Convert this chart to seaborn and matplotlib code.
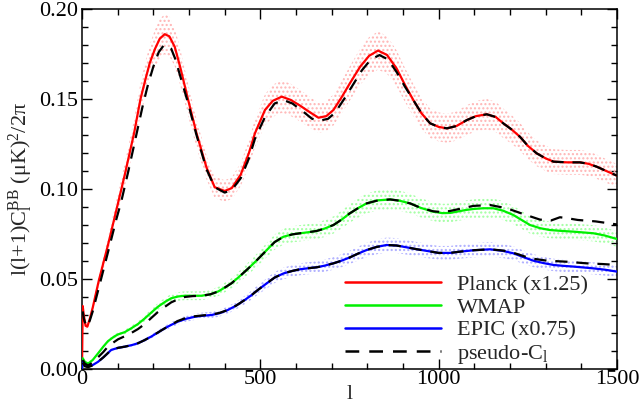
import numpy as np
import pandas as pd
import matplotlib
matplotlib.use("Agg")
import matplotlib.pyplot as plt
import seaborn as sns

# ---------------- data ----------------
planck_l = [0, 2, 5, 10, 15, 22, 30, 47, 60, 73, 96, 120, 146, 164, 178, 190, 205, 218, 232,
            245, 260, 275, 297, 321, 349, 372, 400, 420, 445, 468, 485, 513, 535, 560,
            585, 610, 640, 663, 685, 705, 728, 751, 780, 805, 830, 855, 882, 905, 929,
            952, 976, 1000, 1023, 1050, 1079, 1105, 1135, 1160, 1181, 1205, 1228, 1250,
            1275, 1300, 1322, 1360, 1396, 1420, 1443, 1470, 1500]
planck_y = [0.0, 0.035, 0.030, 0.024, 0.0235, 0.028, 0.034, 0.049, 0.059, 0.069, 0.088, 0.108,
            0.131, 0.150, 0.161, 0.170, 0.178, 0.1835, 0.186, 0.1848, 0.179, 0.168, 0.150,
            0.131, 0.112, 0.101, 0.0989, 0.1005, 0.108, 0.120, 0.131, 0.1439, 0.149,
            0.1513, 0.1495, 0.1465, 0.1425, 0.1396, 0.1405, 0.1439, 0.151, 0.1587, 0.168,
            0.174, 0.1769, 0.1745, 0.167, 0.158, 0.1494, 0.142, 0.1365, 0.1345, 0.1337,
            0.1350, 0.1383, 0.1405, 0.1415, 0.1400, 0.1365, 0.1330, 0.129, 0.124, 0.1198,
            0.117, 0.1152, 0.1148, 0.1148, 0.1140, 0.1124, 0.110, 0.1074]

pseudo_planck_l = [2, 5, 10, 15, 22, 30, 47, 73, 96, 110, 130, 150, 170, 185, 200, 215, 228,
                   238, 250, 262, 275, 297, 321, 349, 372, 400, 420, 445, 468, 485, 513,
                   540, 565, 590, 620, 645, 667, 690, 710, 735, 760, 785, 810, 834, 858,
                   882, 905, 929, 952, 976, 1000, 1023, 1050, 1079, 1105, 1135, 1160, 1181,
                   1205, 1228, 1250, 1275, 1300, 1322, 1360, 1396, 1420, 1443, 1470, 1500]
pseudo_planck_y = [0.032, 0.028, 0.025, 0.0235, 0.027, 0.032, 0.045, 0.065, 0.083, 0.093,
                   0.110, 0.128, 0.146, 0.158, 0.168, 0.176, 0.1795, 0.180, 0.178, 0.172,
                   0.163, 0.148, 0.130, 0.111, 0.101, 0.098, 0.0995, 0.106, 0.117, 0.128,
                   0.140, 0.1475, 0.1494, 0.1475, 0.143, 0.139, 0.138, 0.139, 0.1425, 0.150,
                   0.158, 0.166, 0.172, 0.1744, 0.172, 0.165, 0.157, 0.1494, 0.142, 0.1365,
                   0.1345, 0.1337, 0.1350, 0.1383, 0.1405, 0.1415, 0.1400, 0.1365, 0.1330,
                   0.129, 0.124, 0.1198, 0.117, 0.1152, 0.1148, 0.1148, 0.1140, 0.1124,
                   0.110, 0.1074]

wmap_l = [0, 2, 8, 17, 30, 45, 60, 73, 90, 101, 120, 138, 157, 176, 195, 213, 232, 250, 270,
          288, 310, 335, 360, 381, 400, 419, 438, 456, 475, 493, 518, 540, 565, 590, 611,
          635, 658, 680, 705, 728, 751, 775, 798, 830, 864, 890, 920, 950, 985, 1010, 1032,
          1051, 1075, 1097, 1125, 1153, 1180, 1209, 1235, 1256, 1285, 1312, 1345, 1378,
          1410, 1434, 1465, 1500]
wmap_y = [0.0, 0.006, 0.004, 0.003, 0.005, 0.0087, 0.0125, 0.0155, 0.018, 0.0192, 0.0205,
          0.0226, 0.025, 0.0281, 0.0315, 0.0346, 0.0372, 0.0393, 0.0403, 0.0407, 0.0407,
          0.0407, 0.0415, 0.043, 0.0452, 0.0476, 0.0508, 0.054, 0.0575, 0.061, 0.0661,
          0.0705, 0.0735, 0.0748, 0.0754, 0.076, 0.0767, 0.078, 0.080, 0.083, 0.0865,
          0.0895, 0.092, 0.0937, 0.0942, 0.0935, 0.092, 0.0895, 0.0874, 0.0866, 0.0867,
          0.0874, 0.0883, 0.0889, 0.0893, 0.0893, 0.0880, 0.0856, 0.0825, 0.080, 0.0782,
          0.0772, 0.0767, 0.0763, 0.0758, 0.0754, 0.0742, 0.0722]

pseudo_wmap_l = [2, 8, 17, 30, 45, 60, 73, 90, 101, 120, 138, 157, 176, 195, 213, 232, 250,
                 270, 288, 310, 335, 360, 381, 400, 419, 438, 456, 475, 493, 518, 540, 565,
                 590, 611, 635, 658, 680, 705, 728, 751, 775, 798, 830, 864, 890, 920, 950,
                 985, 1010, 1032, 1060, 1097, 1144, 1191, 1237, 1284, 1315, 1340, 1360,
                 1390, 1440, 1500]
pseudo_wmap_y = [0.005, 0.003, 0.002, 0.0035, 0.0065, 0.0095, 0.0125, 0.015, 0.0165,
                 0.0182, 0.0200, 0.0222, 0.0250, 0.0285, 0.0317, 0.0345, 0.0370, 0.0388,
                 0.0400, 0.0405, 0.0407, 0.0415, 0.043, 0.0452, 0.0476, 0.0508, 0.054,
                 0.0575, 0.061, 0.0661, 0.0705, 0.0735, 0.0748, 0.0754, 0.076, 0.0767,
                 0.078, 0.080, 0.083, 0.0865, 0.0895, 0.092, 0.0937, 0.0942, 0.0935, 0.092,
                 0.0895, 0.0876, 0.0872, 0.0878, 0.0890, 0.0906, 0.0911, 0.0893, 0.0861,
                 0.0830, 0.0825, 0.0843, 0.0838, 0.0828, 0.0820, 0.0803]

epic_l = [0, 2, 8, 17, 30, 45, 60, 82, 100, 120, 140, 157, 175, 194, 213, 232, 250, 269, 290,
          316, 340, 363, 386, 409, 432, 456, 475, 493, 518, 540, 565, 590, 611, 635, 658,
          680, 705, 728, 751, 775, 798, 826, 854, 882, 910, 940, 967, 1000, 1032, 1060,
          1100, 1144, 1180, 1209, 1237, 1265, 1295, 1322, 1350, 1378, 1406, 1434, 1465, 1500]
epic_y = [0.0, 0.004, 0.002, 0.0013, 0.0022, 0.004, 0.0065, 0.0106, 0.0117, 0.0124, 0.0133,
          0.0143, 0.016, 0.018, 0.0203, 0.0226, 0.0245, 0.0263, 0.0278, 0.029, 0.0296,
          0.030, 0.031, 0.0328, 0.0352, 0.0383, 0.041, 0.0439, 0.0476, 0.0508, 0.0531,
          0.0545, 0.0554, 0.056, 0.0565, 0.0574, 0.0587, 0.0602, 0.062, 0.0642, 0.0661,
          0.0678, 0.0689, 0.0686, 0.0676, 0.0665, 0.0656, 0.0645, 0.0645, 0.0652, 0.066,
          0.0665, 0.0656, 0.0643, 0.0622, 0.0602, 0.0588, 0.0578, 0.0573, 0.0569, 0.0564,
          0.0559, 0.0552, 0.0541]

pseudo_epic_l = [2, 8, 17, 30, 45, 60, 82, 100, 120, 140, 157, 175, 194, 213, 232, 250, 269,
                 290, 316, 340, 363, 386, 409, 432, 456, 475, 493, 518, 540, 565, 590, 611,
                 635, 658, 680, 705, 728, 751, 775, 798, 826, 854, 882, 910, 940, 967, 1000,
                 1032, 1060, 1100, 1144, 1180, 1209, 1237, 1256, 1303, 1359, 1415, 1460, 1500]
pseudo_epic_y = [0.0035, 0.0015, 0.001, 0.002, 0.004, 0.0065, 0.0106, 0.0117, 0.0124,
                 0.0133, 0.0143, 0.016, 0.018, 0.0203, 0.0226, 0.0247, 0.0267, 0.0283,
                 0.0293, 0.0298, 0.0302, 0.0312, 0.0328, 0.0352, 0.0383, 0.041, 0.0439,
                 0.0476, 0.0508, 0.0531, 0.0545, 0.0554, 0.056, 0.0565, 0.0574, 0.0587,
                 0.0602, 0.062, 0.0642, 0.0661, 0.0678, 0.0689, 0.0686, 0.0676, 0.0665,
                 0.0656, 0.0645, 0.0645, 0.0652, 0.066, 0.0665, 0.0658, 0.0646, 0.0628,
                 0.0615, 0.0602, 0.0596, 0.0587, 0.0583, 0.0578]

# relative scatter of the simulated points around each curve
planck_spread = 0.06
wmap_spread = 0.06
epic_spread = 0.06

labels = ["Planck (x1.25)", "WMAP", "EPIC (x0.75)", r"pseudo-C$_\mathrm{l}$"]
x_ticks = [0, 500, 1000, 1500]
y_ticks = [0.00, 0.05, 0.10, 0.15, 0.20]

# ---------------- style ----------------
sns.set_style("ticks")
plt.rcParams["font.family"] = ["Liberation Serif", "DejaVu Serif"]
plt.rcParams["mathtext.fontset"] = "custom"
plt.rcParams["mathtext.rm"] = "Liberation Serif"
plt.rcParams["mathtext.it"] = "Liberation Serif:italic"
plt.rcParams["hatch.linewidth"] = 1.0

fig = plt.figure(figsize=(6.39, 4.08), dpi=100)
ax = fig.add_axes([82 / 639, 1 - 369 / 408, 535 / 639, 360 / 408])

def band(lv, yv, s, color):
    lv = np.asarray(lv, float)
    yv = np.asarray(yv, float)
    ax.fill_between(lv[1:], yv[1:] * (1 - s), yv[1:] * (1 + s), facecolor="none",
                    edgecolor=color, hatch="....", linewidth=0, zorder=1)

band(planck_l, planck_y, planck_spread, "#ffb4b4")
band(wmap_l, wmap_y, wmap_spread, "#a0ffa0")
band(epic_l, epic_y, epic_spread, "#acacff")

series = [
    (planck_l, planck_y, "#ff0000", labels[0]),
    (wmap_l, wmap_y, "#00f000", labels[1]),
    (epic_l, epic_y, "#0000ff", labels[2]),
]
for lv, yv, c, lab in series:
    df = pd.DataFrame({"l": lv, "y": yv})
    sns.lineplot(data=df, x="l", y="y", color=c, lw=1.6, ax=ax, label=lab,
                 estimator=None, sort=False, zorder=3)

first = True
for lv, yv in [(pseudo_planck_l, pseudo_planck_y), (pseudo_wmap_l, pseudo_wmap_y),
               (pseudo_epic_l, pseudo_epic_y)]:
    df = pd.DataFrame({"l": lv, "y": yv})
    sns.lineplot(data=df, x="l", y="y", color="black", lw=1.6, ax=ax,
                 label=labels[3] if first else None, estimator=None, sort=False,
                 dashes=False, zorder=4).lines[-1].set_dashes([5.5, 4])
    first = False

ax.set_xlim(0, 1500)
ax.set_ylim(0, 0.20)
ax.set_xticks(x_ticks)
ax.set_yticks(y_ticks)
ax.set_xticklabels([str(t) for t in x_ticks])
ax.set_yticklabels([f"{t:.2f}" for t in y_ticks])
ax.xaxis.set_minor_locator(matplotlib.ticker.MultipleLocator(100))
ax.yaxis.set_minor_locator(matplotlib.ticker.MultipleLocator(0.01))
ax.tick_params(which="both", direction="in", top=True, right=True, width=1.0,
               labelsize=16, colors="black")
ax.tick_params(axis="x", pad=1)
ax.tick_params(axis="y", pad=3)
ax.tick_params(which="major", length=7)
ax.tick_params(which="minor", length=4)
for sp in ax.spines.values():
    sp.set_linewidth(1.1)
    sp.set_color("black")

ax.set_xlabel("l", fontsize=16, labelpad=-3)
ax.set_ylabel(r"l(l+1)C$_\mathrm{l}^\mathrm{BB}$ (μK)$^2$/2π", fontsize=16, labelpad=3)

leg = ax.legend(loc="upper left", bbox_to_anchor=(0.4916, 0.262), frameon=False,
                fontsize=16, handlelength=4.3, handletextpad=0.75, labelspacing=0.1,
                borderpad=0, borderaxespad=0)
for h in leg.get_lines():
    h.set_linewidth(1.8)

fig.savefig("out.png", dpi=100)
